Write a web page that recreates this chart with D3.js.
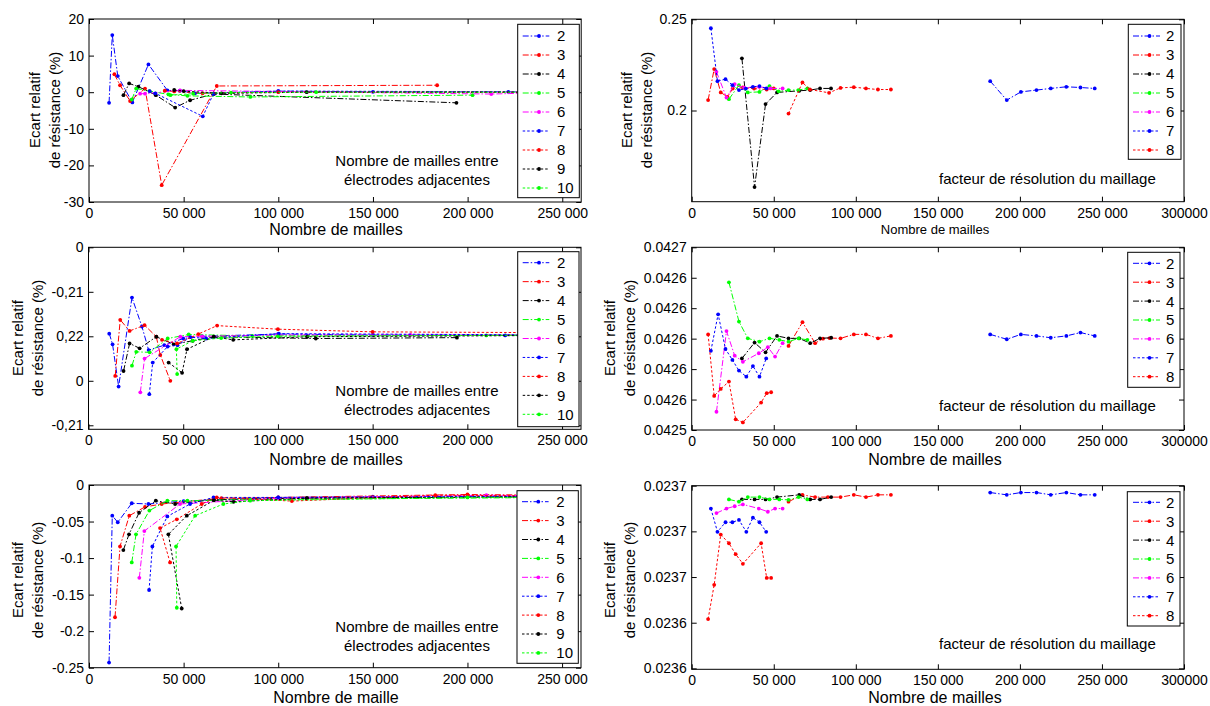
<!DOCTYPE html>
<html><head><meta charset="utf-8">
<script src="https://cdn.jsdelivr.net/npm/d3@7"></script>
<style>
body{margin:0;background:#fff}
svg{display:block}
text{font-family:"Liberation Sans",Arial,sans-serif;fill:#000}
</style>
</head><body>
<svg id="c" width="1210" height="706"></svg>
<script>
// ---------------- DATA ----------------
const namesLeft = ["2","3","4","5","6","7","8","9","10"];
const namesRight = ["2","3","4","5","6","7","8"];

const xTicksLeft = [0,50000,100000,150000,200000,250000];
const xLabelsLeft = ["0","50 000","100 000","150 000","200 000","250 000"];
const xTicksRight = [0,50000,100000,150000,200000,250000,300000];
const xLabelsRight = ["0","50 000","100 000","150 000","200 000","250 000","300000"];

const yTicksTL = [20,10,0,-10,-20,-30];
const yLabelsTL = ["20","10","0","-10","-20","-30"];
const yTicksTR = [0.25,0.2];
const yLabelsTR = ["0.25","0.2"];
const yTicksML = [4,3,2,1,0];
const yLabelsML = ["0","-0,21","0,22","0","-0,21"];
const yTicksMR = [0.04266,0.04264,0.04262,0.0426,0.04258,0.04256,0.04254];
const yLabelsMR = ["0.0427","0.0426","0.0426","0.0426","0.0426","0.0426","0.0425"];
const yTicksBL = [0,-0.05,-0.1,-0.15,-0.2,-0.25];
const yLabelsBL = ["0","-0.05","-0.1","-0.15","-0.2","-0.25"];
const yTicksBR = [0.0237,0.02368,0.02366,0.02364,0.02362];
const yLabelsBR = ["0.0237","0.0237","0.0237","0.0236","0.0236"];

// top-left: ecart relatif (%) vs nombre de mailles, series 2..10
const topLeftValues = [
  [[10600,-2.9],[12300,15.6],[15200,4.4],[22900,-2.8],[31400,7.6],[41400,0.5],[48000,0.4],[56000,-0.3],[100000,0.3],[150000,0.1],[221500,0.1],[250000,0.0]],
  [[13400,4.9],[16400,1.9],[21700,-2.4],[29600,1.0],[38400,-25.4],[67500,1.7],[183900,1.9]],
  [[18200,-0.8],[21200,2.4],[26100,1.5],[35300,-0.8],[45500,-4.2],[53400,-2.2],[66000,-0.5],[194100,-2.9]],
  [[22600,-2.0],[24900,1.0],[32000,0.3],[42000,-0.6],[52000,-1.0],[85200,-1.3],[202600,-0.8]],
  [[27000,-0.4],[29600,-0.4],[48100,0.5],[100000,0.2],[212500,-0.5],[250000,0.0]],
  [[32000,0.3],[35000,-0.3],[60100,-6.6],[65800,-0.4],[100000,0.3],[250000,0.1]],
  [[40000,0.4],[45000,0.2],[60000,-0.3],[100000,0.0],[250000,0.0]],
  [[45000,0.6],[50000,0.3],[70000,-0.3],[115000,0.0],[250000,0.0]],
  [[43000,-0.8],[55000,-0.4],[75000,-0.1],[120000,0.0],[250000,0.0]]
];
// top-right, series 2..8
const topRightValues = [
  [[181900,0.2161],[192000,0.2057],[200600,0.2102],[210100,0.2112],[218800,0.2121],[228300,0.2130],[236900,0.2126],[245600,0.2121]],
  [[10000,0.2057],[13700,0.2227],[17700,0.2099],[21800,0.2075],[25000,0.2120],[31200,0.2126],[38000,0.2120],[45700,0.2115],[50000,0.2121]],
  [[30600,0.2286],[38300,0.158],[45000,0.2035],[52000,0.2099],[65500,0.2108],[72200,0.2112],[78200,0.2121],[84900,0.2121]],
  [[22700,0.2062],[28800,0.2139],[34200,0.2099],[41300,0.2102],[47400,0.2134],[53000,0.2105],[59000,0.2112],[65000,0.2112],[70500,0.2121]],
  [[15100,0.2212],[21200,0.2071],[26200,0.2145],[32000,0.2125],[41000,0.2130],[48000,0.2121],[55400,0.2121]],
  [[11700,0.2451],[15700,0.2161],[20600,0.2172],[24800,0.2139],[28800,0.2112],[33000,0.2120],[37300,0.2130],[41300,0.2134],[45500,0.2121]],
  [[59000,0.1983],[67500,0.2154],[72000,0.2115],[83700,0.2097],[90700,0.2124],[98800,0.2128],[106200,0.2121],[113500,0.2115],[121400,0.2115]]
];
// middle-left (axis units: tick index, 4 = top tick)
const midLeftValues = [
  [[10950,2.06],[12700,1.82],[15900,0.87],[22950,2.87],[28200,2.22],[31750,1.69],[40000,1.80],[50000,1.95],[60000,2.00],[100000,2.05],[150000,2.03],[220000,2.02],[250000,2.02]],
  [[14100,1.11],[16750,2.37],[21700,2.12],[29600,2.25],[35800,1.99],[37900,1.58],[43200,1.00]],
  [[18500,1.22],[21700,1.84],[27000,1.73],[35800,1.99],[45000,1.82],[55000,1.90],[66100,1.99],[120000,1.95],[194500,1.97]],
  [[22950,1.34],[25200,1.65],[32300,1.64],[41800,1.95],[52900,2.04],[86400,2.01],[210000,2.02],[250000,2.03]],
  [[27350,0.74],[29600,1.50],[48500,1.99],[60000,2.00],[100000,2.03],[170000,2.03],[250000,2.03]],
  [[32100,0.70],[33900,1.41],[41800,1.77],[47000,1.80],[53800,1.98],[62000,1.95],[100500,2.06],[250000,2.03]],
  [[38800,1.92],[46800,1.84],[58000,2.05],[67900,2.24],[100000,2.16],[150000,2.10],[250000,2.08]],
  [[42300,1.41],[49400,1.18],[52000,1.71],[66100,1.99],[76400,1.92],[115500,1.99],[250000,2.02]],
  [[46800,1.15],[46400,1.71],[55000,1.90],[70000,1.96],[100000,2.00],[250000,2.03]]
];
// middle-right
const midRightValues = [
  [[181900,0.0426028],[192000,0.0425996],[200600,0.0426028],[210100,0.0426018],[218800,0.0426006],[228300,0.0426018],[236900,0.042604],[245600,0.0426018]],
  [[59000,0.0425952],[67500,0.0426108],[75200,0.042597],[80000,0.0426],[84000,0.0426004],[90700,0.0426002],[98800,0.0426028],[106200,0.0426028],[113500,0.0426002],[121400,0.0426018]],
  [[30600,0.042587],[38300,0.0425974],[45000,0.042591],[52000,0.0426018],[59000,0.0426002],[65500,0.0426002],[72200,0.042597],[78200,0.0426002],[85000,0.0426006]],
  [[22700,0.042637],[28800,0.0426112],[34200,0.0426002],[41300,0.042598],[47400,0.0426002],[53400,0.0425992],[59000,0.042598],[65100,0.0426002],[70500,0.0425992]],
  [[15100,0.042552],[21200,0.042605],[26200,0.0425888],[31200,0.0425848],[40900,0.0425904],[46400,0.0425944],[50800,0.0425882],[55400,0.042597]],
  [[11700,0.042592],[16100,0.042616],[20600,0.0425932],[24800,0.042586],[28800,0.042579],[33300,0.042575],[37300,0.042582],[41300,0.042575],[45400,0.042587]],
  [[10000,0.0426028],[13700,0.0425624],[17700,0.042567],[22700,0.0425718],[26800,0.042547],[31200,0.042545],[42300,0.042558],[45700,0.0425642],[48400,0.0425648]]
];
// bottom-left
const botLeftValues = [
  [[10600,-0.243],[12300,-0.042],[15200,-0.051],[22600,-0.025],[31400,-0.026],[50000,-0.022],[100000,-0.017],[150000,-0.016],[250000,-0.015]],
  [[13750,-0.181],[16400,-0.084],[21300,-0.042],[29600,-0.030],[38400,-0.026],[70000,-0.018],[100000,-0.017],[200000,-0.013],[250000,-0.014]],
  [[18150,-0.089],[21150,-0.0675],[26450,-0.038],[35300,-0.0215],[45500,-0.026],[66000,-0.020],[115000,-0.018],[250000,-0.016]],
  [[22600,-0.106],[24850,-0.0675],[31900,-0.035],[41400,-0.0215],[52000,-0.0215],[85000,-0.020],[250000,-0.017]],
  [[26600,-0.127],[29250,-0.063],[48100,-0.026],[100000,-0.018],[210000,-0.014],[250000,-0.015]],
  [[31750,-0.1437],[33500,-0.084],[41400,-0.043],[53400,-0.026],[65800,-0.017],[100000,-0.017],[250000,-0.016]],
  [[42850,-0.106],[37550,-0.059],[46400,-0.047],[59600,-0.026],[67500,-0.017],[107200,-0.022],[183000,-0.014],[250000,-0.015]],
  [[49000,-0.169],[41950,-0.0675],[51700,-0.042],[66000,-0.021],[76350,-0.023],[115200,-0.018],[250000,-0.016]],
  [[46400,-0.168],[46000,-0.084],[56100,-0.042],[71000,-0.026],[85200,-0.0215],[200000,-0.017],[250000,-0.017]]
];
// bottom-right
const botRightValues = [
  [[181900,0.023697],[192000,0.023696],[200600,0.023697],[210100,0.023697],[218800,0.023696],[228300,0.023697],[236900,0.023696],[245600,0.023696]],
  [[59000,0.023693],[67500,0.023696],[75200,0.023695],[83000,0.023695],[90700,0.023695],[98800,0.023696],[106200,0.023695],[113500,0.023696],[121400,0.023696]],
  [[30600,0.023694],[38300,0.023694],[45000,0.023694],[52000,0.023695],[65500,0.023696],[72200,0.023694],[78200,0.023694],[85000,0.023695]],
  [[22700,0.023694],[28800,0.023693],[34200,0.023695],[41300,0.023695],[47400,0.023694],[53400,0.023694],[59000,0.0236938],[65100,0.023695],[70500,0.023694]],
  [[15100,0.023688],[21200,0.02369],[26200,0.023691],[31200,0.0236918],[40900,0.02369],[46400,0.0236886],[50800,0.02369],[55400,0.02369]],
  [[11700,0.02369],[15700,0.0236798],[20600,0.023684],[24800,0.023684],[28800,0.023685],[33300,0.0236798],[37300,0.023686],[41300,0.023684],[45400,0.0236798]],
  [[10000,0.0236416],[13700,0.0236566],[17700,0.0236786],[22700,0.0236748],[26800,0.02367],[31200,0.0236658],[42300,0.0236748],[45700,0.0236596],[48400,0.0236596]]
];

// ---------------- STYLE ----------------
const colorOf = {"2":"#0000ff","3":"#ff0000","4":"#000000","5":"#00ff00","6":"#ff00ff","7":"#0000ff","8":"#ff0000","9":"#000000","10":"#00ff00"};
const dashOf = n => (+n <= 6 ? "6,2,1.5,2" : "2.5,2");
const FONT = '"Liberation Sans",Arial,sans-serif';

const svg = d3.select("#c");

function drawPanel(p) {
  const g = svg.append("g");
  const x = d3.scaleLinear().domain(p.xDomain).range([p.x0, p.x1]);
  const y = d3.scaleLinear().domain(p.yDomain).range([p.y1, p.y0]);
  const clipId = "clip" + p.id;
  svg.append("clipPath").attr("id", clipId).append("rect")
    .attr("x", p.x0).attr("y", p.y0).attr("width", p.x1 - p.x0).attr("height", p.y1 - p.y0);

  g.append("rect").attr("x", p.x0).attr("y", p.y0).attr("width", p.x1 - p.x0).attr("height", p.y1 - p.y0)
    .attr("fill", "#fff");

  const line = d3.line().x(d => x(d[0])).y(d => y(d[1]));
  const plot = g.append("g").attr("clip-path", `url(#${clipId})`);
  p.values.forEach((pts, i) => {
    const n = p.names[i];
    plot.append("path").attr("d", line(pts)).attr("fill", "none")
      .attr("stroke", colorOf[n]).attr("stroke-width", 1).attr("stroke-dasharray", dashOf(n));
    plot.selectAll(null).data(pts).enter().append("circle")
      .attr("cx", d => x(d[0])).attr("cy", d => y(d[1])).attr("r", 1.9)
      .attr("fill", colorOf[n]);
  });

  // axes
  const ax = d3.axisBottom(x).tickValues(p.xTicks).tickFormat((d, i) => p.xLabels[i])
    .tickSizeInner(-5).tickSizeOuter(0).tickPadding(6);
  const gx = g.append("g").attr("transform", `translate(0,${p.y1})`).call(ax);
  const axT = d3.axisTop(x).tickValues(p.xTicks).tickFormat("").tickSizeInner(-5).tickSizeOuter(0);
  const gxt = g.append("g").attr("transform", `translate(0,${p.y0})`).call(axT);
  const ay = d3.axisLeft(y).tickValues(p.yTicks).tickFormat((d, i) => p.yLabels[i])
    .tickSizeInner(-5).tickSizeOuter(0).tickPadding(5);
  const gy = g.append("g").attr("transform", `translate(${p.x0},0)`).call(ay);
  const ayR = d3.axisRight(y).tickValues(p.yTicks).tickFormat("").tickSizeInner(-5).tickSizeOuter(0);
  const gyr = g.append("g").attr("transform", `translate(${p.x1},0)`).call(ayR);
  [gx, gxt, gy, gyr].forEach(a => {
    a.select(".domain").remove();
    a.selectAll("line").attr("stroke", "#000");
    a.selectAll("text").style("font-family", FONT).style("font-size", "14px").attr("fill", "#000");
  });
  g.append("rect").attr("x", p.x0).attr("y", p.y0).attr("width", p.x1 - p.x0).attr("height", p.y1 - p.y0)
    .attr("fill", "none").attr("stroke", "#000").attr("stroke-width", 1);

  // x label
  g.append("text").attr("x", p.xLabelX).attr("y", p.xLabelY).attr("text-anchor", "middle")
    .attr("dy", "0.35em").style("font-size", p.xLabelSize + "px").text(p.xLabel);
  // y label (two lines)
  p.yLabelLines.forEach((t, i) => {
    g.append("text").attr("transform", `translate(${p.yLabelX[i]},${p.yLabelY}) rotate(-90)`)
      .attr("text-anchor", "middle").attr("dy", "0.35em").style("font-size", "15px").text(t);
  });
  // annotation
  p.note.forEach((t, i) => {
    g.append("text").attr("x", p.noteX).attr("y", p.noteY[i]).attr("text-anchor", p.noteAnchor)
      .attr("dy", "0.35em").style("font-size", "15px").text(t);
  });

  // legend
  const L = p.legend;
  const lg = g.append("g");
  lg.append("rect").attr("x", L.x).attr("y", L.y).attr("width", L.w).attr("height", L.h)
    .attr("fill", "#fff").attr("stroke", "#000").attr("stroke-width", 1);
  p.names.forEach((n, i) => {
    const yy = L.row0 + i * L.step;
    lg.append("line").attr("x1", L.lx0).attr("x2", L.lx1).attr("y1", yy).attr("y2", yy)
      .attr("stroke", colorOf[n]).attr("stroke-width", 1).attr("stroke-dasharray", dashOf(n));
    lg.append("circle").attr("cx", (L.lx0 + L.lx1) / 2 + 3).attr("cy", yy).attr("r", 1.9).attr("fill", colorOf[n]);
    lg.append("text").attr("x", L.tx).attr("y", yy).attr("dy", "0.36em").style("font-size", "15px").text(n);
  });
}

const yLab = ["Ecart relatif", "de résistance (%)"];
const noteLeft = ["Nombre de mailles entre", "électrodes adjacentes"];
const noteRight = ["facteur de résolution du maillage"];

drawPanel({
  id: "tl", names: namesLeft, values: topLeftValues,
  x0: 89, x1: 581.2, y0: 19, y1: 202, xDomain: [0, 260000], yDomain: [-30, 20],
  xTicks: xTicksLeft, xLabels: xLabelsLeft, yTicks: yTicksTL, yLabels: yLabelsTL,
  xLabel: "Nombre de mailles", xLabelX: 336, xLabelY: 229, xLabelSize: 16,
  yLabelLines: yLab, yLabelX: [35, 55], yLabelY: 110,
  note: noteLeft, noteX: 417, noteY: [161, 179.5], noteAnchor: "middle",
  legend: {x: 517.7, y: 24.3, w: 61.6, h: 173.4, row0: 36, step: 19.0, lx0: 522.7, lx1: 549.3, tx: 557}
});
drawPanel({
  id: "tr", names: namesRight, values: topRightValues,
  x0: 691.7, x1: 1184, y0: 19.3, y1: 201.7, xDomain: [0, 300000], yDomain: [0.15, 0.25],
  xTicks: xTicksRight, xLabels: xLabelsRight, yTicks: yTicksTR, yLabels: yLabelsTR,
  xLabel: "Nombre de mailles", xLabelX: 935, xLabelY: 229, xLabelSize: 13,
  yLabelLines: yLab, yLabelX: [627, 647], yLabelY: 110,
  note: noteRight, noteX: 939, noteY: [178.3], noteAnchor: "start",
  legend: {x: 1128.3, y: 24.3, w: 52.7, h: 135, row0: 36, step: 19.0, lx0: 1133, lx1: 1160, tx: 1166}
});
drawPanel({
  id: "ml", names: namesLeft, values: midLeftValues,
  x0: 88.5, x1: 581, y0: 247.3, y1: 429.3, xDomain: [0, 260000], yDomain: [-0.09, 4],
  xTicks: xTicksLeft, xLabels: xLabelsLeft, yTicks: yTicksML, yLabels: yLabelsML,
  xLabel: "Nombre de mailles", xLabelX: 336, xLabelY: 459, xLabelSize: 16,
  yLabelLines: yLab, yLabelX: [18, 38], yLabelY: 338,
  note: noteLeft, noteX: 417, noteY: [391, 409.3], noteAnchor: "middle",
  legend: {x: 517.7, y: 251.7, w: 61.3, h: 175, row0: 262.7, step: 18.95, lx0: 522.7, lx1: 549.3, tx: 557}
});
drawPanel({
  id: "mr", names: namesRight, values: midRightValues,
  x0: 691.7, x1: 1184, y0: 247.3, y1: 430, xDomain: [0, 300000], yDomain: [0.04254, 0.04266],
  xTicks: xTicksRight, xLabels: xLabelsRight, yTicks: yTicksMR, yLabels: yLabelsMR,
  xLabel: "Nombre de mailles", xLabelX: 935, xLabelY: 459, xLabelSize: 16,
  yLabelLines: yLab, yLabelX: [610, 630], yLabelY: 338,
  note: noteRight, noteX: 939, noteY: [406], noteAnchor: "start",
  legend: {x: 1127.7, y: 252.3, w: 52.3, h: 135, row0: 263.3, step: 18.9, lx0: 1133, lx1: 1160, tx: 1166}
});
drawPanel({
  id: "bl", names: namesLeft, values: botLeftValues,
  x0: 89, x1: 581, y0: 485, y1: 667.7, xDomain: [0, 260000], yDomain: [-0.25, 0],
  xTicks: xTicksLeft, xLabels: xLabelsLeft, yTicks: yTicksBL, yLabels: yLabelsBL,
  xLabel: "Nombre de maille", xLabelX: 336, xLabelY: 697, xLabelSize: 16,
  yLabelLines: yLab, yLabelX: [18, 38], yLabelY: 580,
  note: noteLeft, noteX: 417, noteY: [626.7, 646], noteAnchor: "middle",
  legend: {x: 517, y: 490.7, w: 61.3, h: 172.6, row0: 501.7, step: 18.9, lx0: 522, lx1: 548.6, tx: 556.3}
});
drawPanel({
  id: "br", names: namesRight, values: botRightValues,
  x0: 691.7, x1: 1184, y0: 485.7, y1: 669.3, xDomain: [0, 300000], yDomain: [0.0236196, 0.0237],
  xTicks: xTicksRight, xLabels: xLabelsRight, yTicks: yTicksBR, yLabels: yLabelsBR,
  xLabel: "Nombre de mailles", xLabelX: 935, xLabelY: 697, xLabelSize: 16,
  yLabelLines: yLab, yLabelX: [610, 630], yLabelY: 580,
  note: noteRight, noteX: 939, noteY: [644], noteAnchor: "start",
  legend: {x: 1127.3, y: 491.7, w: 52.7, h: 134.3, row0: 502.3, step: 18.9, lx0: 1133, lx1: 1160, tx: 1166}
});
</script>
</body></html>
